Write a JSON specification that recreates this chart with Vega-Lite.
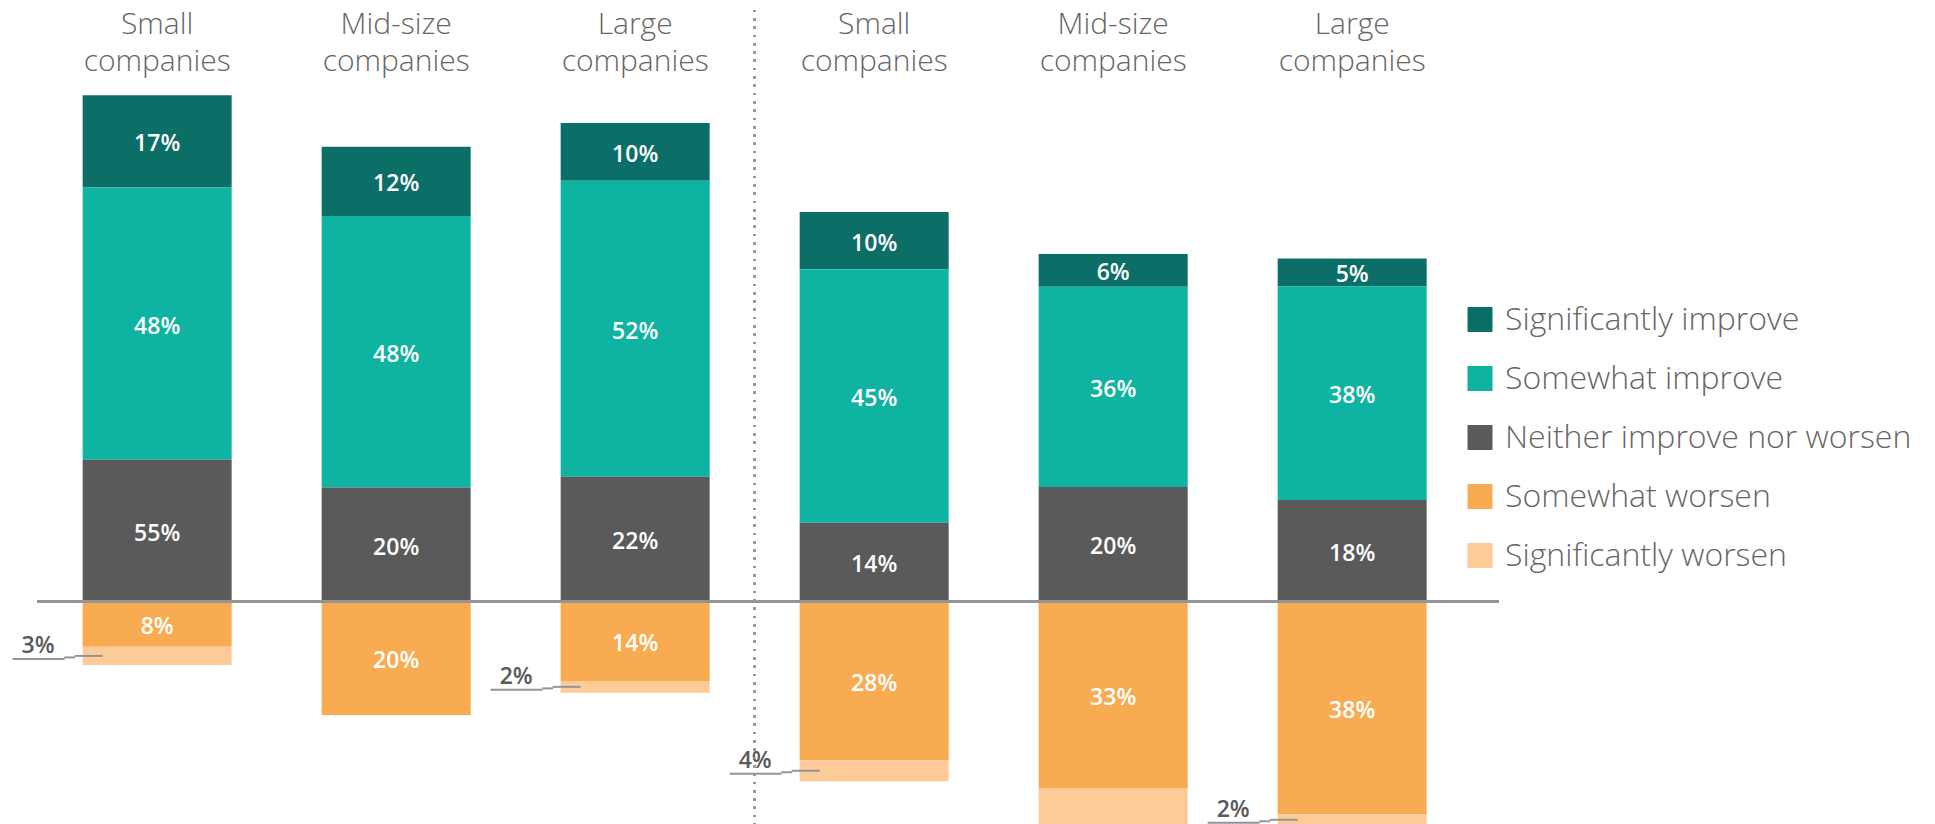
{
  "$schema": "https://vega.github.io/schema/vega-lite/v6.json",
  "autosize": {"type": "none"},
  "padding": {"left": 37, "top": 10, "right": 436, "bottom": 0},
  "width": 1462,
  "height": 814,
  "background": "white",
  "config": {"view": {"stroke": null}, "font": "Open Sans"},
  "data": {
    "values": [
      {"bar": "1 Small companies", "resp": "Significantly improve", "value": 16.3, "label": "17%", "ord": 3},
      {"bar": "1 Small companies", "resp": "Somewhat improve", "value": 48.0, "label": "48%", "ord": 2},
      {"bar": "1 Small companies", "resp": "Neither improve nor worsen", "value": 25.0, "label": "55%", "ord": 1},
      {"bar": "1 Small companies", "resp": "Somewhat worsen", "value": -8.0, "label": "8%", "ord": 4},
      {"bar": "1 Small companies", "resp": "Significantly worsen", "value": -3.2, "label": "3%", "ord": 5},
      {"bar": "2 Mid-size companies", "resp": "Significantly improve", "value": 12.2, "label": "12%", "ord": 3},
      {"bar": "2 Mid-size companies", "resp": "Somewhat improve", "value": 47.9, "label": "48%", "ord": 2},
      {"bar": "2 Mid-size companies", "resp": "Neither improve nor worsen", "value": 20.1, "label": "20%", "ord": 1},
      {"bar": "2 Mid-size companies", "resp": "Somewhat worsen", "value": -20.0, "label": "20%", "ord": 4},
      {"bar": "3 Large companies", "resp": "Significantly improve", "value": 10.2, "label": "10%", "ord": 3},
      {"bar": "3 Large companies", "resp": "Somewhat improve", "value": 52.2, "label": "52%", "ord": 2},
      {"bar": "3 Large companies", "resp": "Neither improve nor worsen", "value": 22.0, "label": "22%", "ord": 1},
      {"bar": "3 Large companies", "resp": "Somewhat worsen", "value": -14.0, "label": "14%", "ord": 4},
      {"bar": "3 Large companies", "resp": "Significantly worsen", "value": -2.1, "label": "2%", "ord": 5},
      {"bar": "4 Small companies", "resp": "Significantly improve", "value": 10.1, "label": "10%", "ord": 3},
      {"bar": "4 Small companies", "resp": "Somewhat improve", "value": 44.7, "label": "45%", "ord": 2},
      {"bar": "4 Small companies", "resp": "Neither improve nor worsen", "value": 13.9, "label": "14%", "ord": 1},
      {"bar": "4 Small companies", "resp": "Somewhat worsen", "value": -28.0, "label": "28%", "ord": 4},
      {"bar": "4 Small companies", "resp": "Significantly worsen", "value": -3.7, "label": "4%", "ord": 5},
      {"bar": "5 Mid-size companies", "resp": "Significantly improve", "value": 5.8, "label": "6%", "ord": 3},
      {"bar": "5 Mid-size companies", "resp": "Somewhat improve", "value": 35.3, "label": "36%", "ord": 2},
      {"bar": "5 Mid-size companies", "resp": "Neither improve nor worsen", "value": 20.2, "label": "20%", "ord": 1},
      {"bar": "5 Mid-size companies", "resp": "Somewhat worsen", "value": -32.9, "label": "33%", "ord": 4},
      {"bar": "5 Mid-size companies", "resp": "Significantly worsen", "value": -10.0, "label": "", "ord": 5},
      {"bar": "6 Large companies", "resp": "Significantly improve", "value": 4.9, "label": "5%", "ord": 3},
      {"bar": "6 Large companies", "resp": "Somewhat improve", "value": 37.7, "label": "38%", "ord": 2},
      {"bar": "6 Large companies", "resp": "Neither improve nor worsen", "value": 17.9, "label": "18%", "ord": 1},
      {"bar": "6 Large companies", "resp": "Somewhat worsen", "value": -37.5, "label": "38%", "ord": 4},
      {"bar": "6 Large companies", "resp": "Significantly worsen", "value": -2.0, "label": "2%", "ord": 5}
    ]
  },
  "layer": [
    {
      "mark": {"type": "bar", "clip": true},
      "encoding": {
        "x": {"field": "bar", "type": "nominal", "sort": null,
          "scale": {"paddingInner": 0.3766, "paddingOuter": 0.2468, "align": 0.387},
          "axis": {"orient": "top", "title": null, "domain": false, "ticks": false, "tickSize": 0, "labelPadding": -23, "labelAngle": 0,
            "labelExpr": "split(slice(datum.label, 2), ' ')", "labelFont": "Open Sans", "labelFontWeight": 300, "labelFontSize": 30,
            "labelColor": "#666666", "labelLineHeight": 37, "labelBaseline": "alphabetic", "labelOverlap": false, "labelBound": false}},
        "y": {"field": "value", "type": "quantitative", "stack": "zero", "scale": {"domain": [-39.24, 104.32], "nice": false, "zero": false}, "axis": null},
        "color": {"field": "resp", "type": "nominal",
          "scale": {"domain": ["Significantly improve", "Somewhat improve", "Neither improve nor worsen", "Somewhat worsen", "Significantly worsen"],
                    "range": ["#0b6e67", "#0fb3a2", "#5a5a5a", "#f9ab51", "#fdcb97"]},
          "legend": {"orient": "none", "legendX": 1427, "legendY": 293.5, "title": null, "padding": 0, "symbolType": "square", "symbolSize": 625,
            "symbolStrokeWidth": 0, "symbolOpacity": 1, "labelFont": "Open Sans", "labelFontWeight": 300, "labelFontSize": 32, "labelColor": "#666666",
            "labelOffset": 9, "rowPadding": 27, "labelLimit": 600}},
        "order": {"field": "ord"}
      }
    },
    {
      "mark": {"type": "text", "color": "white", "font": "Open Sans", "fontWeight": 600, "fontSize": 23, "baseline": "middle", "align": "center", "yOffset": 3},
      "encoding": {
        "x": {"field": "bar", "type": "nominal", "sort": null, "scale": {"paddingInner": 0.3766, "paddingOuter": 0.2468, "align": 0.387}},
        "y": {"field": "value", "type": "quantitative", "stack": "zero", "bandPosition": 0.5, "scale": {"domain": [-39.24, 104.32], "nice": false, "zero": false}, "axis": null},
        "order": {"field": "ord"},
        "detail": {"field": "resp"},
        "text": {"condition": {"test": "datum.resp !== 'Significantly worsen'", "field": "label", "type": "nominal"}, "value": ""}
      }
    },
    {
      "mark": {"type": "text", "color": "#58595b", "font": "Open Sans", "fontWeight": 600, "fontSize": 23, "baseline": "middle", "align": "right", "xOffset": -102.5, "yOffset": -10},
      "encoding": {
        "x": {"field": "bar", "type": "nominal", "sort": null, "scale": {"paddingInner": 0.3766, "paddingOuter": 0.2468, "align": 0.387}},
        "y": {"field": "value", "type": "quantitative", "stack": "zero", "bandPosition": 0.5, "scale": {"domain": [-39.24, 104.32], "nice": false, "zero": false}, "axis": null},
        "order": {"field": "ord"},
        "detail": {"field": "resp"},
        "text": {"condition": {"test": "datum.resp === 'Significantly worsen'", "field": "label", "type": "nominal"}, "value": ""}
      }
    },
    {
      "mark": {"type": "rule", "color": "#939598", "strokeWidth": 2, "xOffset": -144.5, "x2Offset": -92.5, "yOffset": 3},
      "encoding": {
        "x": {"field": "bar", "type": "nominal", "sort": null, "scale": {"paddingInner": 0.3766, "paddingOuter": 0.2468, "align": 0.387}},
        "x2": {"field": "bar"},
        "y": {"field": "value", "type": "quantitative", "stack": "zero", "bandPosition": 0.5, "scale": {"domain": [-39.24, 104.32], "nice": false, "zero": false}, "axis": null},
        "order": {"field": "ord"},
        "detail": {"field": "resp"},
        "strokeOpacity": {"condition": {"test": "datum.resp === 'Significantly worsen' && datum.label !== ''", "value": 1}, "value": 0}
      }
    },
    {
      "mark": {"type": "rule", "color": "#939598", "strokeWidth": 2, "xOffset": -93, "x2Offset": -82, "yOffset": 1.5},
      "encoding": {
        "x": {"field": "bar", "type": "nominal", "sort": null, "scale": {"paddingInner": 0.3766, "paddingOuter": 0.2468, "align": 0.387}},
        "x2": {"field": "bar"},
        "y": {"field": "value", "type": "quantitative", "stack": "zero", "bandPosition": 0.5, "scale": {"domain": [-39.24, 104.32], "nice": false, "zero": false}, "axis": null},
        "order": {"field": "ord"},
        "detail": {"field": "resp"},
        "strokeOpacity": {"condition": {"test": "datum.resp === 'Significantly worsen' && datum.label !== ''", "value": 1}, "value": 0}
      }
    },
    {
      "mark": {"type": "rule", "color": "#939598", "strokeWidth": 2, "xOffset": -82.5, "x2Offset": -54.5, "yOffset": 0},
      "encoding": {
        "x": {"field": "bar", "type": "nominal", "sort": null, "scale": {"paddingInner": 0.3766, "paddingOuter": 0.2468, "align": 0.387}},
        "x2": {"field": "bar"},
        "y": {"field": "value", "type": "quantitative", "stack": "zero", "bandPosition": 0.5, "scale": {"domain": [-39.24, 104.32], "nice": false, "zero": false}, "axis": null},
        "order": {"field": "ord"},
        "detail": {"field": "resp"},
        "strokeOpacity": {"condition": {"test": "datum.resp === 'Significantly worsen' && datum.label !== ''", "value": 1}, "value": 0}
      }
    },
    {
      "mark": {"type": "rule", "color": "#939598", "strokeWidth": 2.7},
      "encoding": {
        "y": {"datum": 0, "type": "quantitative", "scale": {"domain": [-39.24, 104.32], "nice": false, "zero": false}, "axis": null}
      }
    },
    {
      "mark": {"type": "rule", "color": "#9a9a9a", "strokeWidth": 2, "strokeDash": [2, 6.3], "xOffset": 119.5},
      "encoding": {
        "x": {"datum": "3 Large companies", "type": "nominal", "scale": {"paddingInner": 0.3766, "paddingOuter": 0.2468, "align": 0.387}}
      }
    }
  ]
}
